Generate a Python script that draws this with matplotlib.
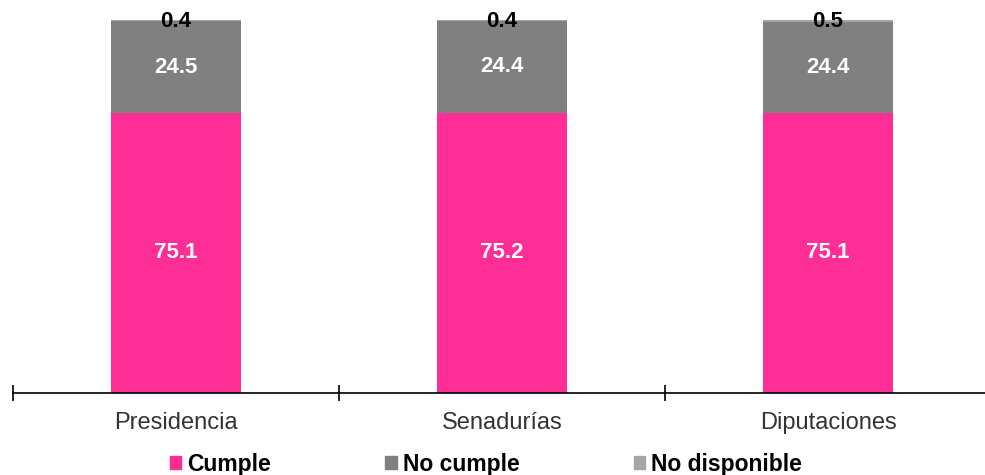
import matplotlib.pyplot as plt
from matplotlib.patches import Patch

plt.rcParams['font.family'] = ['Liberation Sans', 'DejaVu Sans']

categories = ["Presidencia", "Senadurías", "Diputaciones"]
cumple = [75.1, 75.2, 75.1]
no_cumple = [24.5, 24.4, 24.4]
no_disponible = [0.4, 0.4, 0.5]
series_names = ["Cumple", "No cumple", "No disponible"]
colors = ["#FF2D96", "#808080", "#A6A6A6"]

fig = plt.figure(figsize=(9.85, 4.75), dpi=100)
ax = fig.add_axes([13/985, 82/475, 978/985, 373/475])

x = list(range(len(categories)))
w = 0.4
ax.bar(x, cumple, w, color=colors[0])
b2 = [c for c in cumple]
ax.bar(x, no_cumple, w, bottom=b2, color=colors[1])
b3 = [c + n for c, n in zip(cumple, no_cumple)]
ax.bar(x, no_disponible, w, bottom=b3, color=colors[2])

for i in x:
    ax.text(i, cumple[i] / 2, f"{cumple[i]:.1f}", ha='center', va='center',
            color='white', fontweight='bold', fontsize=16)
    ax.text(i, cumple[i] + no_cumple[i] / 2, f"{no_cumple[i]:.1f}", ha='center', va='center',
            color='white', fontweight='bold', fontsize=16)
    ax.text(i, b3[i], f"{no_disponible[i]:.1f}", ha='center', va='center',
            color='black', fontweight='bold', fontsize=16)

ax.set_xlim(-0.5, 2.5)
ax.set_ylim(0, 100)
for s in ['top', 'right', 'left']:
    ax.spines[s].set_visible(False)
ax.spines['bottom'].set_linewidth(1.2)
ax.set_yticks([])
ax.set_xticks([-0.5, 0.5, 1.5, 2.5])
ax.set_xticklabels([])
ax.tick_params(axis='x', direction='inout', length=12, width=1.2)
ax.set_xticks(x, minor=True)
ax.set_xticklabels(categories, minor=True, fontsize=17, color='#333333')
ax.tick_params(axis='x', which='minor', length=0, pad=14)

handles = [Patch(color=c, label=n) for c, n in zip(colors, series_names)]
leg = fig.legend(handles=handles, loc='center', bbox_to_anchor=(486/985, 1 - 464/475),
                 ncol=3, frameon=False, handlelength=0.5, handleheight=0.5,
                 handletextpad=0.25, columnspacing=5.0, borderpad=0.1,
                 prop={'weight': 'bold', 'size': 16.5})

fig.savefig('out.png', dpi=100)
